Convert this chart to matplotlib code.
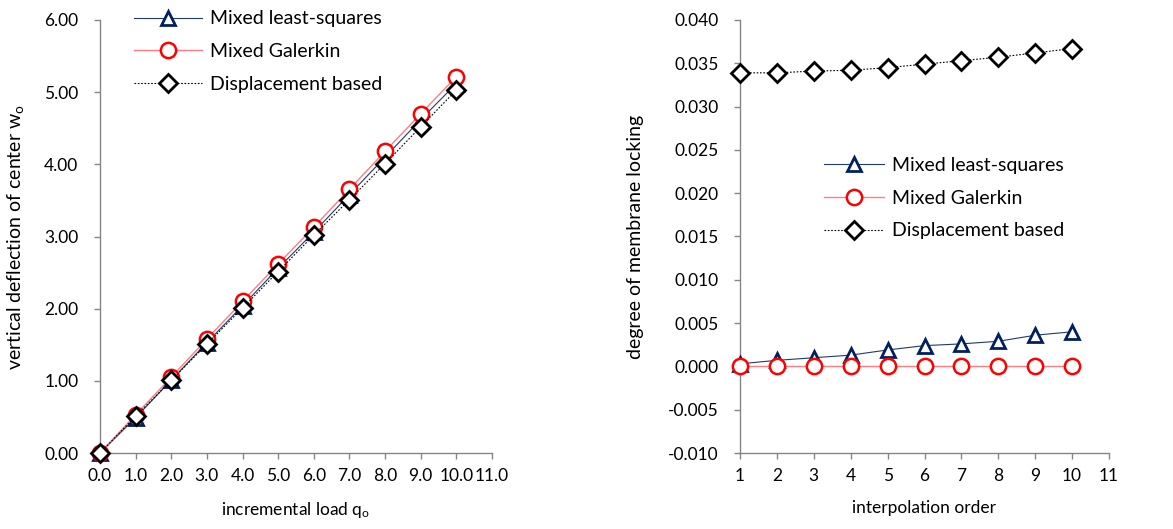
import matplotlib
matplotlib.use("Agg")
import matplotlib.pyplot as plt
from matplotlib.ticker import FixedLocator, FormatStrFormatter

plt.rcParams['font.family'] = ['Lato', 'DejaVu Sans']
plt.rcParams['mathtext.default'] = 'regular'

# Left chart data
load = [0, 1, 2, 3, 4, 5, 6, 7, 8, 9, 10]
w_lsq = [0.0, 0.49, 1.01, 1.53, 2.04, 2.56, 3.06, 3.58, 4.10, 4.62, 5.12]
w_gal = [0.0, 0.53, 1.05, 1.58, 2.10, 2.62, 3.13, 3.655, 4.18, 4.70, 5.215]
w_disp = [0.0, 0.51, 1.006, 1.51, 2.01, 2.515, 3.02, 3.51, 4.01, 4.52, 5.03]

# Right chart data
order = [1, 2, 3, 4, 5, 6, 7, 8, 9, 10]
lock_lsq = [0.0003, 0.0007, 0.0010, 0.0013, 0.0019, 0.0024, 0.0026, 0.0029, 0.0036, 0.0040]
lock_gal = [0.0, 0.0, 0.0, 0.0, 0.0, 0.0, 0.0, 0.0, 0.0, 0.0]
lock_disp = [0.0339, 0.0339, 0.0341, 0.0342, 0.0345, 0.0349, 0.0353, 0.0357, 0.0362, 0.0367]

labels = ["Mixed least-squares", "Mixed Galerkin", "Displacement based"]

NAVY = "#1F3A6E"
MNAVY = "#002060"
RED = "#FF0000"
LRED = "#FF7C80"
GRAY = "#868686"
TFS = 12.5   # tick labels
LFS = 14     # legend
XFS = 12.5   # x labels
YFS = 14     # y labels

fig = plt.figure(figsize=(11.73, 5.29), dpi=100)
axL = fig.add_axes([100/1173, 76/529, 392/1173, 433/529])
axR = fig.add_axes([740/1173, 76/529, 369/1173, 433/529])


def style(ax):
    for s in ["top", "right"]:
        ax.spines[s].set_visible(False)
    for s in ["left", "bottom"]:
        ax.spines[s].set_color(GRAY)
        ax.spines[s].set_linewidth(1.0)
    ax.tick_params(direction="out", color=GRAY, length=4.5, width=1.0,
                   labelsize=TFS, labelcolor="#000000")
    ax.tick_params(axis="y", pad=11)
    ax.tick_params(axis="x", pad=6)


def plot_series(ax, x, a, b, c):
    ax.plot(x, a, color=NAVY, lw=0.8, marker="^", ms=9.5, mfc="white",
            mec=MNAVY, mew=2.0, label=labels[0], zorder=3, clip_on=False)
    ax.plot(x, b, color=LRED, lw=1.0, marker="o", ms=11, mfc="white",
            mec=RED, mew=1.8, label=labels[1], zorder=4, clip_on=False)
    ax.plot(x, c, color="black", lw=0.8, ls=(0, (1.5, 1.5)), marker="D",
            ms=9, mfc="white", mec="black", mew=2.0, label=labels[2], zorder=5,
            clip_on=False)


def add_legend(ax, x, y, hl):
    ax.legend(loc="upper left", bbox_to_anchor=(x, y), frameon=False,
              fontsize=LFS, handlelength=hl, labelspacing=0.81,
              handletextpad=0.4, borderaxespad=0, borderpad=0)


plot_series(axL, load, w_lsq, w_gal, w_disp)
style(axL)
axL.set_xlim(0, 11)
axL.set_ylim(0, 6)
axL.xaxis.set_major_locator(FixedLocator(list(range(0, 12))))
axL.yaxis.set_major_locator(FixedLocator([0, 1, 2, 3, 4, 5, 6]))
axL.xaxis.set_major_formatter(FormatStrFormatter("%.1f"))
axL.yaxis.set_major_formatter(FormatStrFormatter("%.2f"))
axL.set_xlabel("incremental load q$_o$", fontsize=XFS)
axL.set_ylabel("vertical deflection of center w$_o$", fontsize=YFS)
axL.xaxis.set_label_coords(0.5, -0.108)
axL.yaxis.set_label_coords(-0.189, 0.5)
add_legend(axL, 0.087, 1.022, 3.5)

plot_series(axR, order, lock_lsq, lock_gal, lock_disp)
style(axR)
axR.set_xlim(1, 11)
axR.set_ylim(-0.010, 0.040)
axR.xaxis.set_major_locator(FixedLocator(list(range(1, 12))))
axR.yaxis.set_major_locator(FixedLocator([-0.010 + 0.005 * i for i in range(11)]))
axR.yaxis.set_major_formatter(FormatStrFormatter("%.3f"))
axR.set_xlabel("interpolation order", fontsize=XFS)
axR.set_ylabel("degree of membrane locking", fontsize=YFS)
axR.xaxis.set_label_coords(0.5, -0.108)
axR.yaxis.set_label_coords(-0.260, 0.5)
add_legend(axR, 0.228, 0.684, 3.1)

fig.savefig("out.png", dpi=100)
